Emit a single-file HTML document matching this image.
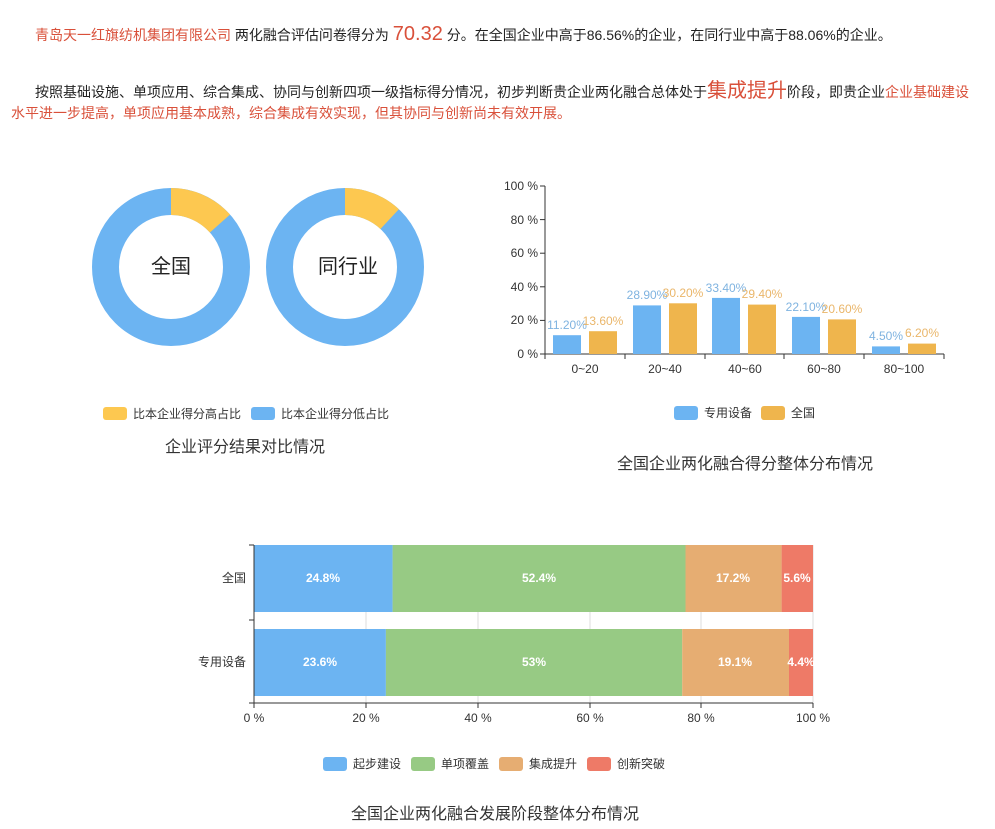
<!DOCTYPE html>
<html><head><meta charset="utf-8"><style>
body{margin:0;background:#fff;width:995px;height:829px;overflow:hidden;position:relative;font-family:"Liberation Sans","Noto Sans CJK SC",sans-serif;}
.p{position:absolute;font-size:14px;color:#222;white-space:nowrap;}
.r{color:#d9503a}
</style></head><body>
<div class="p" style="left:35px;top:23px;"><span class="r">青岛天一红旗纺机集团有限公司</span> 两化融合评估问卷得分为 <span class="r" style="font-size:20px;">70.32</span> 分。在全国企业中高于86.56%的企业，在同行业中高于88.06%的企业。</div>
<div class="p" style="left:35px;top:74px;">按照基础设施、单项应用、综合集成、协同与创新四项一级指标得分情况，初步判断贵企业两化融合总体处于<span class="r" style="font-size:20px;">集成提升</span>阶段，即贵企业<span class="r">企业基础建设</span></div>
<div class="p r" style="left:11px;top:103px;">水平进一步提高，单项应用基本成熟，综合集成有效实现，但其协同与创新尚未有效开展。</div>
<svg width="995" height="829" style="position:absolute;left:0;top:0" font-family="Liberation Sans, Noto Sans CJK SC, sans-serif">
<g fill="none" stroke-width="27">
<circle cx="171" cy="267" r="65.5" stroke="#6cb4f2"/>
<circle cx="171" cy="267" r="65.5" stroke="#fdc850" stroke-dasharray="55.3 400" transform="rotate(-90 171 267)"/>
<circle cx="345" cy="267" r="65.5" stroke="#6cb4f2"/>
<circle cx="345" cy="267" r="65.5" stroke="#fdc850" stroke-dasharray="49.1 400" transform="rotate(-90 345 267)"/>
</g>
<text x="171" y="273" font-size="20" text-anchor="middle" fill="#222">全国</text>
<text x="348" y="273" font-size="20" text-anchor="middle" fill="#222">同行业</text>
<rect x="103" y="407" width="24" height="13" rx="3" fill="#fdc850"/><text x="133" y="418" font-size="12" fill="#333">比本企业得分高占比</text>
<rect x="251" y="407" width="24" height="13" rx="3" fill="#6cb4f2"/><text x="281" y="418" font-size="12" fill="#333">比本企业得分低占比</text>
<text x="245" y="452" font-size="16" text-anchor="middle" fill="#333">企业评分结果对比情况</text>
<g font-size="12" fill="#333" text-anchor="end">
<text x="538" y="190">100 %</text><text x="538" y="224">80 %</text><text x="538" y="257">60 %</text><text x="538" y="291">40 %</text><text x="538" y="324">20 %</text><text x="538" y="358">0 %</text>
</g>
<g stroke="#333"><line x1="545" y1="186" x2="545" y2="354"/><line x1="545" y1="354" x2="944" y2="354"/>
<line x1="540" y1="186" x2="545" y2="186"/><line x1="540" y1="219.6" x2="545" y2="219.6"/><line x1="540" y1="253.2" x2="545" y2="253.2"/><line x1="540" y1="286.8" x2="545" y2="286.8"/><line x1="540" y1="320.4" x2="545" y2="320.4"/><line x1="540" y1="354" x2="545" y2="354"/>
<line x1="545" y1="354" x2="545" y2="359"/><line x1="625" y1="354" x2="625" y2="359"/><line x1="705" y1="354" x2="705" y2="359"/><line x1="784" y1="354" x2="784" y2="359"/><line x1="864" y1="354" x2="864" y2="359"/><line x1="944" y1="354" x2="944" y2="359"/></g>
<g fill="#6cb4f2"><rect x="553" y="335.2" width="28" height="18.8"/><rect x="633" y="305.4" width="28" height="48.6"/><rect x="712" y="297.9" width="28" height="56.1"/><rect x="792" y="316.9" width="28" height="37.1"/><rect x="872" y="346.4" width="28" height="7.6"/></g>
<g fill="#efb54d"><rect x="589" y="331.2" width="28" height="22.8"/><rect x="669" y="303.3" width="28" height="50.7"/><rect x="748" y="304.6" width="28" height="49.4"/><rect x="828" y="319.4" width="28" height="34.6"/><rect x="908" y="343.6" width="28" height="10.4"/></g>
<g font-size="12" text-anchor="middle"><g fill="#7fb3e0"><text x="567" y="329">11.20%</text><text x="647" y="299">28.90%</text><text x="726" y="292">33.40%</text><text x="806" y="311">22.10%</text><text x="886" y="340">4.50%</text></g>
<g fill="#eab66a"><text x="603" y="325">13.60%</text><text x="683" y="297">30.20%</text><text x="762" y="298">29.40%</text><text x="842" y="313">20.60%</text><text x="922" y="337">6.20%</text></g></g>
<g font-size="12" fill="#333" text-anchor="middle"><text x="585" y="373">0~20</text><text x="665" y="373">20~40</text><text x="745" y="373">40~60</text><text x="824" y="373">60~80</text><text x="904" y="373">80~100</text></g>
<rect x="674" y="406" width="24" height="14" rx="3" fill="#6cb4f2"/><text x="704" y="417" font-size="12" fill="#333">专用设备</text>
<rect x="761" y="406" width="24" height="14" rx="3" fill="#efb54d"/><text x="791" y="417" font-size="12" fill="#333">全国</text>
<text x="745" y="469" font-size="16" text-anchor="middle" fill="#333">全国企业两化融合得分整体分布情况</text>
<g stroke="#ddd"><line x1="366" y1="545" x2="366" y2="703"/><line x1="478" y1="545" x2="478" y2="703"/><line x1="590" y1="545" x2="590" y2="703"/><line x1="701" y1="545" x2="701" y2="703"/><line x1="813" y1="545" x2="813" y2="703"/></g>
<rect x="254" y="545" width="138.6" height="67" fill="#6cb4f2"/><rect x="392.6" y="545" width="292.9" height="67" fill="#97ca84"/><rect x="685.5" y="545" width="96.1" height="67" fill="#e6ad72"/><rect x="781.6" y="545" width="31.4" height="67" fill="#ee7a67"/>
<rect x="254" y="629" width="131.9" height="67" fill="#6cb4f2"/><rect x="385.9" y="629" width="296.3" height="67" fill="#97ca84"/><rect x="682.2" y="629" width="106.8" height="67" fill="#e6ad72"/><rect x="789" y="629" width="24" height="67" fill="#ee7a67"/>
<g stroke="#333"><line x1="254" y1="545" x2="254" y2="703"/><line x1="254" y1="703" x2="813" y2="703"/><line x1="249" y1="545" x2="254" y2="545"/><line x1="249" y1="620" x2="254" y2="620"/><line x1="249" y1="703" x2="254" y2="703"/>
<line x1="254" y1="703" x2="254" y2="708"/><line x1="366" y1="703" x2="366" y2="708"/><line x1="478" y1="703" x2="478" y2="708"/><line x1="590" y1="703" x2="590" y2="708"/><line x1="701" y1="703" x2="701" y2="708"/><line x1="813" y1="703" x2="813" y2="708"/></g>
<g font-size="12" fill="#fff" text-anchor="middle" font-weight="bold"><text x="323" y="582">24.8%</text><text x="539" y="582">52.4%</text><text x="733" y="582">17.2%</text><text x="797" y="582">5.6%</text>
<text x="320" y="666">23.6%</text><text x="534" y="666">53%</text><text x="735" y="666">19.1%</text><text x="801" y="666">4.4%</text></g>
<g font-size="12" fill="#333" text-anchor="end"><text x="246" y="582">全国</text><text x="246" y="666">专用设备</text></g>
<g font-size="12" fill="#333" text-anchor="middle"><text x="254" y="722">0 %</text><text x="366" y="722">20 %</text><text x="478" y="722">40 %</text><text x="590" y="722">60 %</text><text x="701" y="722">80 %</text><text x="813" y="722">100 %</text></g>
<rect x="323" y="757" width="24" height="14" rx="3" fill="#6cb4f2"/><text x="353" y="768" font-size="12" fill="#333">起步建设</text>
<rect x="411" y="757" width="24" height="14" rx="3" fill="#97ca84"/><text x="441" y="768" font-size="12" fill="#333">单项覆盖</text>
<rect x="499" y="757" width="24" height="14" rx="3" fill="#e6ad72"/><text x="529" y="768" font-size="12" fill="#333">集成提升</text>
<rect x="587" y="757" width="24" height="14" rx="3" fill="#ee7a67"/><text x="617" y="768" font-size="12" fill="#333">创新突破</text>
<text x="495" y="819" font-size="16" text-anchor="middle" fill="#333">全国企业两化融合发展阶段整体分布情况</text>
</svg>
</body></html>
